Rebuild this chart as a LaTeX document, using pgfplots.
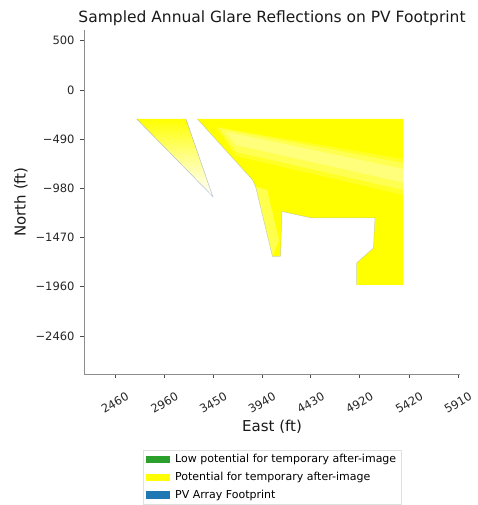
\documentclass[border=0pt]{standalone}
\usepackage{fontspec}
\setmainfont{DejaVu Sans}
\usepackage{pgfplots}
\pgfplotsset{compat=1.18}
\definecolor{glareyellow}{RGB}{255,255,0}
\definecolor{lowgreen}{RGB}{44,160,44}
\definecolor{pvblue}{RGB}{31,119,180}
\definecolor{outlinec}{RGB}{150,165,205}
\begin{document}
\begin{tikzpicture}
\path[use as bounding box] (-84pt,-131pt) rectangle (393pt,374pt);
\begin{axis}[
  anchor=south west, at={(0pt,0pt)},
  scale only axis, width=376pt, height=344pt,
  xmin=2150, xmax=5930, ymin=-2840, ymax=600,
  axis x line*=bottom, axis y line*=left,
  axis line style={-, draw=black!45, line width=0.7pt},
  xtick={2460,2960,3450,3940,4430,4920,5420,5910},
  xticklabels={2460,2960,3450,3940,4430,4920,5420,5910},
  ytick={-2460,-1960,-1470,-980,-490,0,500},
  yticklabels={−2460,−1960,−1470,−980,−490,0,500},
  tick align=outside, major tick length=4pt,
  tick style={black!70, line width=0.6pt},
  ticklabel style={font=\fontsize{11.5}{13}\selectfont, text=black!85},
  yticklabel style={xshift=-2pt},
  xticklabel style={yshift=-25pt, rotate=30, anchor=center, inner sep=0pt},
  title={Sampled Annual Glare Reflections on PV Footprint},
  title style={at={(axis description cs:0.5,1)}, anchor=base, yshift=1pt,
    inner sep=0pt, font=\fontsize{15.5}{18}\selectfont, text=black!90},
  xlabel={East (ft)},
  xlabel style={at={(axis description cs:0.5,0)}, anchor=north, yshift=-46pt,
    inner sep=0pt, font=\fontsize{15}{18}\selectfont, text=black!90},
  ylabel={North (ft)},
  every axis y label/.style={at={(axis description cs:0,0.5)}, xshift=-63pt,
    rotate=90, anchor=center, inner sep=0pt,
    font=\fontsize{15}{18}\selectfont, text=black!90},
  no markers,
  legend style={at={(axis description cs:0.5,0)}, anchor=north, yshift=-76pt,
    draw=black!12, fill=white, font=\fontsize{11}{13}\selectfont,
    inner xsep=3pt, inner ysep=2pt, row sep=4pt,
    /tikz/every odd column/.append style={column sep=4pt}},
  legend cell align=left,
]
% sliver part of footprint (fading yellow)
\addplot[draw=none, top color=glareyellow, bottom color=white, middle color=glareyellow!45, forget plot]
  coordinates {(2680,-290) (3175,-290) (3445,-1065) (2680,-290)};
% main glare area
\addplot[draw=none, fill=glareyellow, forget plot]
  coordinates {(3290,-290) (5360,-290) (5360,-1950) (4890,-1950) (4890,-1730)
   (5060,-1580) (5075,-1280) (4440,-1280) (4140,-1215) (4125,-1665) (4045,-1665)
   (3875,-965) (3845,-900) (3290,-290)};
% lighter streaks
\addplot[draw=none, fill=white, fill opacity=0.15, forget plot]
  coordinates {(3480,-370) (5360,-690) (5360,-1050) (3677,-660) (3480,-370)};
\addplot[draw=none, fill=white, fill opacity=0.2, forget plot]
  coordinates {(3510,-383) (5360,-730) (5360,-1000) (3677,-620) (3510,-383)};
\addplot[draw=none, fill=white, fill opacity=0.25, forget plot]
  coordinates {(3577,-417) (5360,-790) (5360,-925) (3677,-550) (3577,-417)};
\addplot[draw=none, fill=white, fill opacity=0.3, forget plot]
  coordinates {(3875,-965) (3990,-1000) (4110,-1500) (4045,-1665) (3875,-965)};
% footprint outline
\addplot[draw=outlinec, line width=0.5pt, draw opacity=0.7, forget plot]
  coordinates {(2680,-290) (3445,-1065) (3175,-290)};
\addplot[draw=outlinec, line width=0.5pt, draw opacity=0.5, forget plot]
  coordinates {(3290,-290) (3845,-900) (3875,-965) (4045,-1665) (4125,-1665)
   (4140,-1215) (4440,-1280) (5075,-1280) (5060,-1580) (4890,-1730) (4890,-1950)};
% legend
\addlegendimage{legend image code/.code={\fill[lowgreen] (0pt,-3.2pt) rectangle (23pt,3.2pt);}}
\addlegendentry{Low potential for temporary after-image}
\addlegendimage{legend image code/.code={\fill[glareyellow] (0pt,-3.2pt) rectangle (23pt,3.2pt);}}
\addlegendentry{Potential for temporary after-image}
\addlegendimage{legend image code/.code={\fill[pvblue] (0pt,-3.2pt) rectangle (23pt,3.2pt);}}
\addlegendentry{PV Array Footprint}
\end{axis}
\end{tikzpicture}
\end{document}
